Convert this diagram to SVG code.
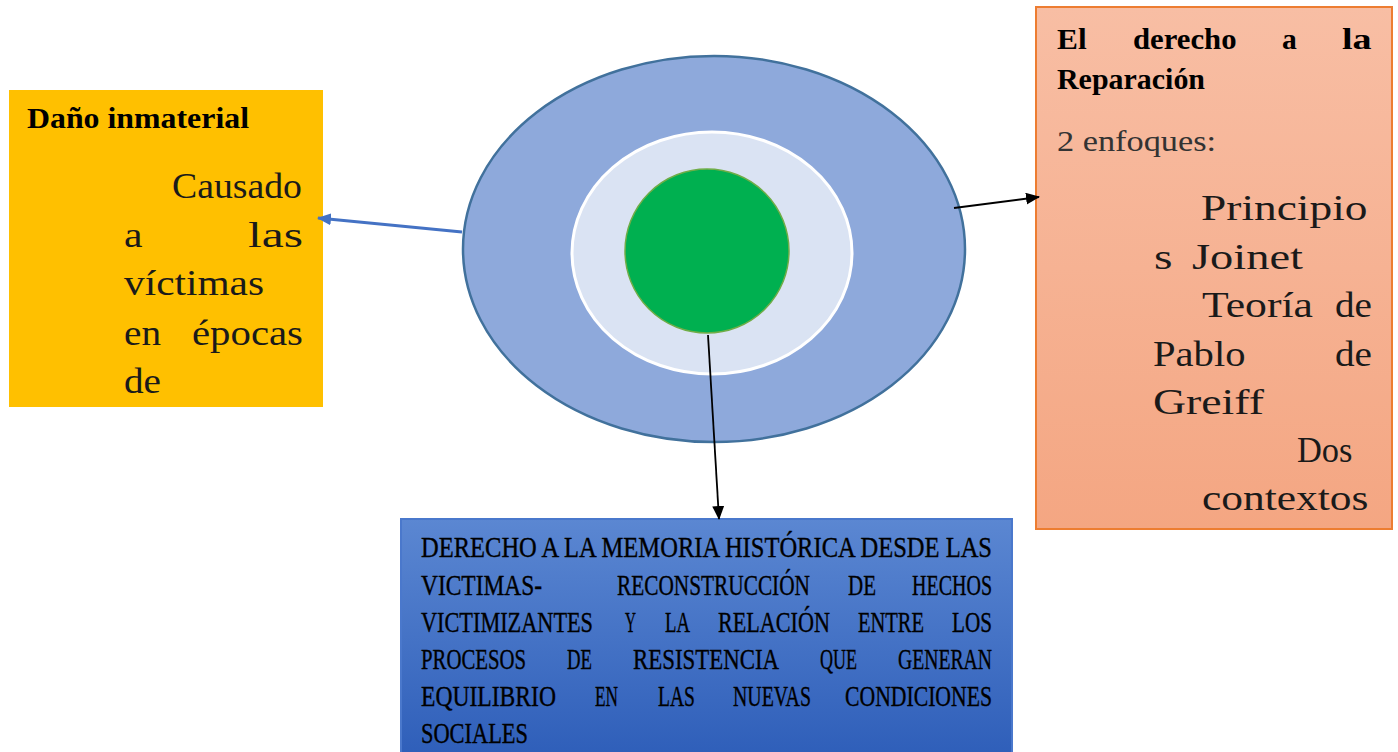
<svg xmlns="http://www.w3.org/2000/svg" width="1398" height="752" viewBox="0 0 1398 752">
<style>
.t{font-family:"Liberation Serif","DejaVu Serif",serif;fill:#000}
.b{font-weight:bold;font-size:29px}
.big{font-size:36px;fill:#1a1a1a}
.sm{font-size:29px;fill:#333}
.cap{font-size:29px;stroke:#000;stroke-width:0.35px}
.conn{fill:none}
</style>
<defs>
<linearGradient id="gOr" x1="0" y1="0" x2="0" y2="1">
<stop offset="0" stop-color="#F8BEA4"/><stop offset="1" stop-color="#F4A682"/>
</linearGradient>
<linearGradient id="gBl" x1="0" y1="0" x2="0" y2="1">
<stop offset="0" stop-color="#5B87D2"/><stop offset="1" stop-color="#2E5EB9"/>
</linearGradient>
<marker id="ab" markerUnits="userSpaceOnUse" markerWidth="14" markerHeight="12" refX="13" refY="6" orient="auto">
<path d="M0,0 L14,6 L0,12 z" fill="#000"/>
</marker>
<marker id="abl" markerUnits="userSpaceOnUse" markerWidth="14" markerHeight="12" refX="13" refY="6" orient="auto">
<path d="M0,0 L14,6 L0,12 z" fill="#4472C4"/>
</marker>
</defs>
<rect width="1398" height="752" fill="#fff"/>

<g id="dano">
<rect x="9" y="90" width="314" height="317" fill="#FFC000"/>
<text class="t b" x="27" y="128" textLength="222" lengthAdjust="spacingAndGlyphs">Daño inmaterial</text>
<text class="t big" x="172" y="198" textLength="130" lengthAdjust="spacingAndGlyphs">Causado</text>
<text class="t big" x="124" y="247" textLength="18.5" lengthAdjust="spacingAndGlyphs">a</text>
<text class="t big" x="248" y="247" textLength="55" lengthAdjust="spacingAndGlyphs">las</text>
<text class="t big" x="124" y="295" textLength="140" lengthAdjust="spacingAndGlyphs">víctimas</text>
<text class="t big" x="124" y="345" textLength="37" lengthAdjust="spacingAndGlyphs">en</text>
<text class="t big" x="192" y="345" textLength="111" lengthAdjust="spacingAndGlyphs">épocas</text>
<text class="t big" x="124" y="393" textLength="37" lengthAdjust="spacingAndGlyphs">de</text>
</g>

<g id="centro">
<ellipse cx="714" cy="249" rx="251" ry="193" fill="#8EA9DB" stroke="#41719C" stroke-width="2.5"/>
<ellipse cx="712" cy="253" rx="140" ry="121" fill="#DAE3F3" stroke="#fff" stroke-width="3"/>
<circle cx="707" cy="251" r="82" fill="#00B050" stroke="#70AD47" stroke-width="1.5"/>
</g>

<g id="reparacion">
<rect x="1036" y="7" width="356" height="522" fill="url(#gOr)" stroke="#ED7D31" stroke-width="2"/>
<text class="t b" x="1057" y="49" textLength="29.6" lengthAdjust="spacingAndGlyphs">El</text>
<text class="t b" x="1133" y="49" textLength="103.6" lengthAdjust="spacingAndGlyphs">derecho</text>
<text class="t b" x="1282" y="49" textLength="14.8" lengthAdjust="spacingAndGlyphs">a</text>
<text class="t b" x="1342" y="49" textLength="29.6" lengthAdjust="spacingAndGlyphs">la</text>
<text class="t b" x="1057" y="89" textLength="148" lengthAdjust="spacingAndGlyphs">Reparación</text>
<text class="t sm" x="1057" y="151" textLength="159" lengthAdjust="spacingAndGlyphs">2 enfoques:</text>
<text class="t big" x="1201" y="220" textLength="166.5" lengthAdjust="spacingAndGlyphs">Principio</text>
<text class="t big" x="1154" y="269" textLength="18.5" lengthAdjust="spacingAndGlyphs">s</text>
<text class="t big" x="1192" y="269" textLength="111" lengthAdjust="spacingAndGlyphs">Joinet</text>
<text class="t big" x="1202" y="317" textLength="111" lengthAdjust="spacingAndGlyphs">Teoría</text>
<text class="t big" x="1335" y="317" textLength="37" lengthAdjust="spacingAndGlyphs">de</text>
<text class="t big" x="1153" y="366" textLength="92.5" lengthAdjust="spacingAndGlyphs">Pablo</text>
<text class="t big" x="1335" y="366" textLength="37" lengthAdjust="spacingAndGlyphs">de</text>
<text class="t big" x="1153" y="414" textLength="111" lengthAdjust="spacingAndGlyphs">Greiff</text>
<text class="t big" x="1297" y="462" textLength="55.5" lengthAdjust="spacingAndGlyphs">Dos</text>
<text class="t big" x="1202" y="510" textLength="166.5" lengthAdjust="spacingAndGlyphs">contextos</text>
</g>

<g id="memoria">
<rect x="401" y="519" width="611" height="240" fill="url(#gBl)" stroke="#4A78CC" stroke-width="2"/>
<text class="t cap" x="421" y="557" textLength="571" lengthAdjust="spacingAndGlyphs">DERECHO A LA MEMORIA HISTÓRICA DESDE LAS</text>
<text class="t cap" x="421" y="595" textLength="121" lengthAdjust="spacingAndGlyphs">VICTIMAS-</text>
<text class="t cap" x="617" y="595" textLength="193" lengthAdjust="spacingAndGlyphs">RECONSTRUCCIÓN</text>
<text class="t cap" x="848" y="595" textLength="28" lengthAdjust="spacingAndGlyphs">DE</text>
<text class="t cap" x="912" y="595" textLength="80" lengthAdjust="spacingAndGlyphs">HECHOS</text>
<text class="t cap" x="421" y="632" textLength="172" lengthAdjust="spacingAndGlyphs">VICTIMIZANTES</text>
<text class="t cap" x="625" y="632" textLength="11" lengthAdjust="spacingAndGlyphs">Y</text>
<text class="t cap" x="665" y="632" textLength="25" lengthAdjust="spacingAndGlyphs">LA</text>
<text class="t cap" x="718" y="632" textLength="112" lengthAdjust="spacingAndGlyphs">RELACIÓN</text>
<text class="t cap" x="858" y="632" textLength="66" lengthAdjust="spacingAndGlyphs">ENTRE</text>
<text class="t cap" x="952" y="632" textLength="40" lengthAdjust="spacingAndGlyphs">LOS</text>
<text class="t cap" x="421" y="669" textLength="105" lengthAdjust="spacingAndGlyphs">PROCESOS</text>
<text class="t cap" x="567" y="669" textLength="25" lengthAdjust="spacingAndGlyphs">DE</text>
<text class="t cap" x="633" y="669" textLength="146" lengthAdjust="spacingAndGlyphs">RESISTENCIA</text>
<text class="t cap" x="820" y="669" textLength="37" lengthAdjust="spacingAndGlyphs">QUE</text>
<text class="t cap" x="898" y="669" textLength="94" lengthAdjust="spacingAndGlyphs">GENERAN</text>
<text class="t cap" x="421" y="706" textLength="135" lengthAdjust="spacingAndGlyphs">EQUILIBRIO</text>
<text class="t cap" x="595" y="706" textLength="23" lengthAdjust="spacingAndGlyphs">EN</text>
<text class="t cap" x="658" y="706" textLength="37" lengthAdjust="spacingAndGlyphs">LAS</text>
<text class="t cap" x="733" y="706" textLength="78" lengthAdjust="spacingAndGlyphs">NUEVAS</text>
<text class="t cap" x="845" y="706" textLength="147" lengthAdjust="spacingAndGlyphs">CONDICIONES</text>
<text class="t cap" x="421" y="743" textLength="107" lengthAdjust="spacingAndGlyphs">SOCIALES</text>
</g>

<g id="conectores">
<line class="conn" x1="462" y1="232" x2="318" y2="218" stroke="#4472C4" stroke-width="3" marker-end="url(#abl)"/>
<line class="conn" x1="954" y1="208" x2="1039" y2="197" stroke="#000" stroke-width="1.8" marker-end="url(#ab)"/>
<line class="conn" x1="708" y1="335" x2="719" y2="519" stroke="#000" stroke-width="1.8" marker-end="url(#ab)"/>
</g>
</svg>
